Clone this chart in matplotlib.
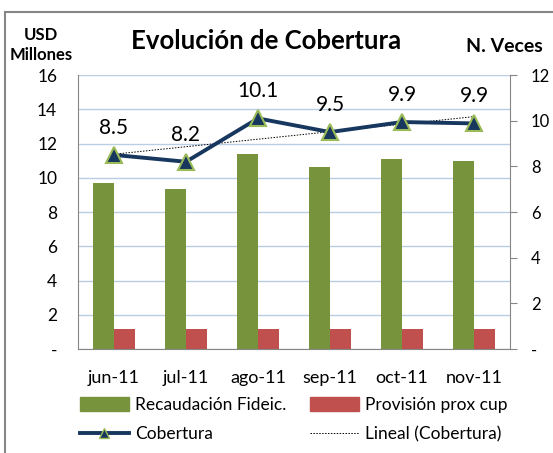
import numpy as np
import matplotlib.pyplot as plt
from matplotlib.patches import Rectangle
from matplotlib.lines import Line2D

plt.rcParams['font.family'] = ['Lato', 'DejaVu Sans']

# datos
meses = ['jun-11', 'jul-11', 'ago-11', 'sep-11', 'oct-11', 'nov-11']
recaudacion = [9.7, 9.35, 11.4, 10.65, 11.1, 11.0]
provision = [1.18, 1.18, 1.18, 1.15, 1.15, 1.15]
cobertura = [8.5, 8.2, 10.1, 9.5, 9.94, 9.88]

verde = '#77933C'
rojo = '#C0504D'
azul = '#17375E'
gris = '#868686'

fig = plt.figure(figsize=(5.53, 4.53), dpi=100)
ax = fig.add_axes([78/553, 1-349/453, 432/553, 274/453])
ax2 = ax.twinx()

x = np.arange(len(meses))
w = 0.29
ax.bar(x - w/2, recaudacion, w, color=verde, zorder=2)
ax.bar(x + w/2, provision, w, color=rojo, zorder=2)

# eje izquierdo
ax.set_ylim(0, 16)
ax.set_xlim(-0.5, len(meses) - 0.5)
ax.set_yticks(range(0, 17, 2))
ax.set_yticklabels(['-'] + [str(v) for v in range(2, 17, 2)])
ax.tick_params(axis='y', length=0, labelsize=12.5, pad=15)
ax.set_xticks(x)
ax.set_xticklabels(meses)
ax.tick_params(axis='x', length=0, labelsize=13, pad=15)
ax.grid(axis='y', color='#B9CDE5', linewidth=1, zorder=0)
ax.set_axisbelow(True)
for s in ['top', 'right']:
    ax.spines[s].set_visible(False)
ax.spines['left'].set_color(gris)
ax.spines['bottom'].set_color(gris)

# eje derecho, cobertura
ax2.set_ylim(0, 12)
ax2.set_yticks(range(0, 13, 2))
ax2.set_yticklabels(['-'] + [str(v) for v in range(2, 13, 2)])
ax2.tick_params(axis='y', length=5, color=gris, labelsize=12, pad=10)
for s in ['top', 'left', 'bottom']:
    ax2.spines[s].set_visible(False)
ax2.spines['right'].set_color(gris)

m, b = np.polyfit(x, cobertura, 1)
ax2.plot(x, m*x + b, color='black', linestyle=(0, (1.5, 1.5)), linewidth=0.7, zorder=3)
ax2.plot(x, cobertura, color=azul, linewidth=2.8, marker='^', markersize=11,
         markerfacecolor=azul, markeredgecolor='#9BBB59', markeredgewidth=1.5, zorder=4)
for xi, c in zip(x, cobertura):
    ax2.annotate('%.1f' % c, (xi, c), xytext=(0, 27), textcoords='offset pixels',
                 ha='center', va='center', fontsize=15)

# titulos
fig.text(266/553, 1-41/453, 'Evolución de Cobertura', fontsize=18.5, fontweight='bold',
         ha='center', va='center')
fig.text(41/553, 1-45/453, 'USD\nMillones', fontsize=12, fontweight='bold',
         ha='center', va='center', linespacing=1.25)
fig.text(504/553, 1-47/453, 'N. Veces', fontsize=14, fontweight='bold',
         ha='center', va='center')

# leyenda
handles = [
    Rectangle((0, 0), 1, 1, color=verde),
    Line2D([], [], color=azul, linewidth=2.8, marker='^', markersize=7,
           markerfacecolor=azul, markeredgecolor='#9BBB59'),
    Rectangle((0, 0), 1, 1, color=rojo),
    Line2D([], [], color='black', linestyle=(0, (1.5, 1.5)), linewidth=0.7),
]
labels = ['Recaudación Fideic.', 'Cobertura', 'Provisión prox cup', 'Lineal (Cobertura)']
fig.legend(handles, labels, ncol=2, loc='upper left', bbox_to_anchor=(80/553, 1-397/453),
           frameon=False, fontsize=12.5, handlelength=2.8, handleheight=0.8,
           handletextpad=0.35, columnspacing=1.4, labelspacing=0.75, borderpad=0,
           borderaxespad=0)

# marco del grafico
fig.patches.append(Rectangle((5/553, -0.1), 1, 1-12/453 + 0.1, transform=fig.transFigure,
                             fill=False, edgecolor=gris, linewidth=1.5))

fig.savefig('out.png', dpi=100)
